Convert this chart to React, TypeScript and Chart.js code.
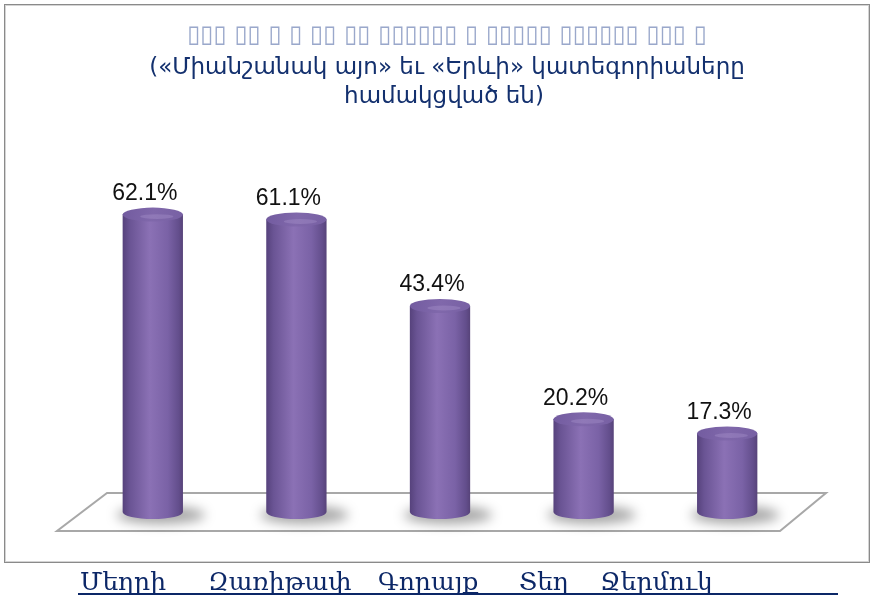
import React, { useEffect, useRef } from "react";
import { Chart, registerables } from "chart.js";

Chart.register(...registerables);

const categories = ["Մեղրի", "Զառիթափ", "Գորայք", "Տեղ", "Ջերմուկ"];
const values = [62.1, 61.1, 43.4, 20.2, 17.3];
const valueLabels = ["62.1%", "61.1%", "43.4%", "20.2%", "17.3%"];
const titleLine1 = "▯▯▯ ▯▯ ▯ ▯ ▯▯ ▯▯ ▯▯▯▯▯▯ ▯ ▯▯▯▯▯ ▯▯▯▯▯▯ ▯▯▯ ▯";
const titleLines = ["(«Միանշանակ այո» եւ «Երևի» կատեգորիաները", "համակցված են)"];
const labelLeft = [80, 208, 378, 519, 600];

const W = 872;
const H = 603;

const cylinderPlugin = {
  id: "cylinders",
  beforeDraw(chart: any) {
    const ctx = chart.ctx;
    ctx.save();
    ctx.fillStyle = "#ffffff";
    ctx.fillRect(0, 0, W, H);
    // frame
    ctx.strokeStyle = "#8a8a8a";
    ctx.lineWidth = 1;
    ctx.strokeRect(4.5, 4.5, 865, 558);
    ctx.strokeStyle = "#d4d4d4";
    ctx.strokeRect(5.5, 5.5, 863, 556);
    // titles
    ctx.textAlign = "center";
    ctx.textBaseline = "middle";
    ctx.fillStyle = "#9aa8cb";
    ctx.font = "24px 'DejaVu Sans'";
    ctx.fillText(titleLine1, 447, 36);
    ctx.fillStyle = "#13306e";
    ctx.font = "23px 'DejaVu Sans'";
    ctx.fillText(titleLines[0], 447, 68);
    ctx.fillText(titleLines[1], 444, 97);
    // category text below frame
    ctx.textAlign = "left";
    ctx.textBaseline = "alphabetic";
    ctx.fillStyle = "#0c2767";
    ctx.font = "25px 'DejaVu Serif'";
    categories.forEach((c, i) => ctx.fillText(c, labelLeft[i], 590));
    ctx.fillRect(78, 593, 760, 2);
    ctx.restore();
  },
  beforeDatasetsDraw(chart: any) {
    const ctx = chart.ctx;
    const ys = chart.scales.y;
    const area = chart.chartArea;
    const zero = ys.getPixelForValue(0);
    const backY = zero - 25;
    const frontY = zero + 13;
    ctx.save();
    // floor
    ctx.beginPath();
    ctx.moveTo(area.left + 26, backY);
    ctx.lineTo(area.right + 27, backY);
    ctx.lineTo(area.right - 19, frontY);
    ctx.lineTo(area.left - 24, frontY);
    ctx.closePath();
    ctx.fillStyle = "#ffffff";
    ctx.fill();
    ctx.strokeStyle = "#a8a8a8";
    ctx.lineWidth = 2;
    ctx.stroke();

    const meta = chart.getDatasetMeta(0);
    meta.data.forEach((el: any, i: number) => {
      const x = el.x;
      const top = el.y;
      const w = el.width;
      const rx = w / 2;
      const ry = 7;
      const bot = zero - 6;
      // shadow
      ctx.save();
      ctx.filter = "blur(6px)";
      ctx.fillStyle = "rgba(0,0,0,0.35)";
      ctx.beginPath();
      ctx.ellipse(x + 8, bot + 3, rx + 14, 9, 0, 0, Math.PI * 2);
      ctx.fill();
      ctx.restore();
      // body
      const g = ctx.createLinearGradient(x - rx, 0, x + rx, 0);
      g.addColorStop(0, "#56427c");
      g.addColorStop(0.12, "#6a5494");
      g.addColorStop(0.45, "#8b71b5");
      g.addColorStop(0.75, "#7a62a6");
      g.addColorStop(0.93, "#634e8c");
      g.addColorStop(1, "#574379");
      ctx.beginPath();
      ctx.moveTo(x - rx, top);
      ctx.lineTo(x - rx, bot);
      ctx.ellipse(x, bot, rx, ry, 0, Math.PI, 0, true);
      ctx.lineTo(x + rx, top);
      ctx.closePath();
      ctx.fillStyle = g;
      ctx.fill();
      // top cap
      const cg = ctx.createLinearGradient(x - rx, top - ry, x + rx, top + ry);
      cg.addColorStop(0, "#725b9f");
      cg.addColorStop(0.5, "#8068ab");
      cg.addColorStop(1, "#7760a3");
      ctx.beginPath();
      ctx.ellipse(x, top, rx, ry, 0, 0, Math.PI * 2);
      ctx.fillStyle = cg;
      ctx.fill();
      // subtle highlight on cap
      ctx.beginPath();
      ctx.ellipse(x + 4, top + 2, rx * 0.55, ry * 0.35, 0, 0, Math.PI * 2);
      ctx.fillStyle = "rgba(190,170,225,0.25)";
      ctx.fill();
      // label
      ctx.fillStyle = "#111111";
      ctx.font = "23px 'Liberation Sans'";
      ctx.textAlign = "center";
      ctx.textBaseline = "middle";
      ctx.fillText(valueLabels[i], x - 8, top - 21);
    });
    ctx.restore();
    return false;
  },
};

export default function App() {
  const ref = useRef<HTMLCanvasElement | null>(null);
  useEffect(() => {
    if (!ref.current) return;
    const chart = new Chart(ref.current, {
      type: "bar",
      data: {
        labels: categories,
        datasets: [
          {
            data: values,
            backgroundColor: "#8068ab",
            categoryPercentage: 1,
            barPercentage: 0.42,
          },
        ],
      },
      options: {
        animation: false,
        responsive: false,
        devicePixelRatio: 1,
        layout: { padding: { top: 176, bottom: 85, left: 81, right: 73 } },
        plugins: { legend: { display: false }, title: { display: false }, tooltip: { enabled: false } },
        scales: {
          x: { display: false, offset: true },
          y: { display: false, min: 0, max: 70 },
        },
      },
      plugins: [cylinderPlugin],
    });
    return () => chart.destroy();
  }, []);
  return (
    <div style={{ position: "absolute", left: 0, top: 0, width: W, height: H }}>
      <canvas ref={ref} width={W} height={H} style={{ display: "block", width: W, height: H }} />
    </div>
  );
}
